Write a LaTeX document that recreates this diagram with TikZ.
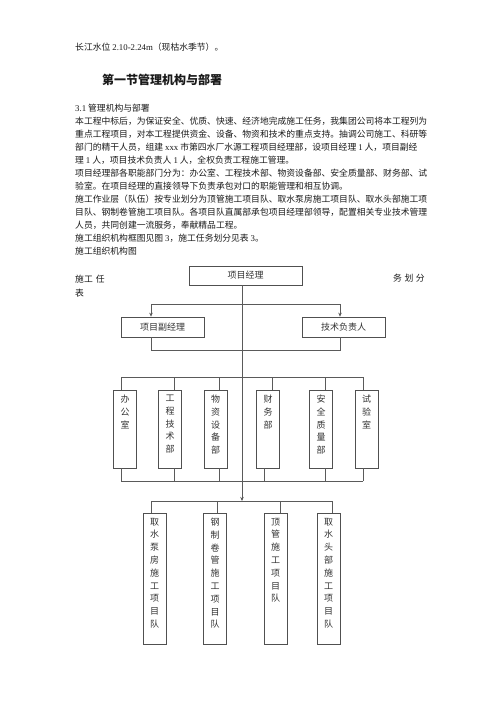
\documentclass[tikz,border=0pt]{standalone}
\usepackage{fontspec}
\setmainfont{Noto Sans CJK SC}
\newfontfamily\lat{Liberation Serif}
\usetikzlibrary{arrows.meta}
\definecolor{linec}{HTML}{5A5A5A}
\definecolor{boxc}{HTML}{505050}
\definecolor{labc}{HTML}{333333}
\definecolor{txtc}{HTML}{1A1A1A}
\newcommand{\vtxt}[2]{\parbox[c][#1][t]{20pt}{\centering\baselineskip=12.8pt\lineskiplimit=-20pt\vspace*{5pt}#2}}
\tikzset{
  txt/.style={anchor=west, inner sep=0, text=txtc, font=\fontsize{8.8}{10}\selectfont},
  box/.style={draw=boxc, line width=0.7pt, inner sep=0, text=labc, font=\fontsize{9}{10}\selectfont},
  vbox/.style={box, minimum width=23pt},
  wire/.style={draw=linec, line width=0.7pt},
  arr/.style={wire, -{Stealth[length=4pt,width=3.5pt]}},
}
\begin{document}
\begin{tikzpicture}[x=1pt,y=-1pt]
\useasboundingbox[fill=white] (0,0) rectangle (500,706);
% text
\node[txt] (t0) at (75,47) {长江水位 {\lat 2.10-2.24m}（现枯水季节）。};
\node[txt, font=\fontsize{12}{14}\selectfont\bfseries] (h1) at (102,80) {第一节管理机构与部署};
\node[txt] (t1) at (75,108) {{\lat 3.1} 管理机构与部署};
\node[txt] (t2) at (75,121) {本工程中标后，为保证安全、优质、快速、经济地完成施工任务，我集团公司将本工程列为};
\node[txt] (t3) at (75,134) {重点工程项目，对本工程提供资金、设备、物资和技术的重点支持。抽调公司施工、科研等};
\node[txt] (t4) at (75,147) {部门的精干人员，组建 {\lat xxx} 市第四水厂水源工程项目经理部，设项目经理 {\lat 1} 人，项目副经};
\node[txt] (t5) at (75,160) {理 {\lat 1} 人，项目技术负责人 {\lat 1} 人，全权负责工程施工管理。};
\node[txt] (t6) at (75,173) {项目经理部各职能部门分为：办公室、工程技术部、物资设备部、安全质量部、财务部、试};
\node[txt] (t7) at (75,186) {验室。在项目经理的直接领导下负责承包对口的职能管理和相互协调。};
\node[txt] (t8) at (75,199) {施工作业层（队伍）按专业划分为顶管施工项目队、取水泵房施工项目队、取水头部施工项};
\node[txt] (t9) at (75,212) {目队、钢制卷管施工项目队。各项目队直属部承包项目经理部领导，配置相关专业技术管理};
\node[txt] (t10) at (75,225) {人员，共同创建一流服务，奉献精品工程。};
\node[txt] (t11) at (75,238) {施工组织机构框图见图 {\lat 3}，施工任务划分见表 {\lat 3}。};
\node[txt] (t12) at (75,251) {施工组织机构图};
\node[txt] (s1) at (75,279) {施工\hspace{3pt}任};
\node[txt] (s2) at (75,293) {表};
\node[txt] (s3) at (393,278) {务\hspace{2.5pt}划\hspace{2.5pt}分};
% top boxes
\node[box, minimum width=113pt, minimum height=19pt] (pm) at (245.5,275.5) {项目经理};
\node[box, minimum width=83pt, minimum height=20pt] (vice) at (162.5,327) {项目副经理};
\node[box, minimum width=83pt, minimum height=20pt] (tech) at (343.5,327) {技术负责人};
% departments
\node[vbox] (b1) at (125,429) {\vtxt{78pt}{办\\公\\室}};
\node[vbox] (b2) at (170,429) {\vtxt{78pt}{工\\程\\技\\术\\部}};
\node[vbox] (b3) at (215.5,429) {\vtxt{78pt}{物\\资\\设\\备\\部}};
\node[vbox] (b4) at (268,429) {\vtxt{78pt}{财\\务\\部}};
\node[vbox] (b5) at (321,429) {\vtxt{78pt}{安\\全\\质\\量\\部}};
\node[vbox] (b6) at (366.5,429) {\vtxt{78pt}{试\\验\\室}};
% teams
\node[vbox] (d1) at (154.5,578.5) {\vtxt{131pt}{取\\水\\泵\\房\\施\\工\\项\\目\\队}};
\node[vbox] (d2) at (215,578.5) {\vtxt{131pt}{钢\\制\\卷\\管\\施\\工\\项\\目\\队}};
\node[vbox] (d3) at (275.5,578.5) {\vtxt{131pt}{顶\\管\\施\\工\\项\\目\\队}};
\node[vbox] (d4) at (328.5,578.5) {\vtxt{131pt}{取\\水\\头\\部\\施\\工\\项\\目\\队}};
% connectors
\coordinate (sp) at ([xshift=-3.5pt]pm.south);
\coordinate (hL) at (151,304);
\coordinate (hR) at (340,304);
\coordinate (gL) at (151,350);
\coordinate (gR) at (340,350);
\draw[wire] (hL) -- (hR);
\draw[arr] (hL) -- (hL |- vice.north);
\draw[arr] (hR) -- (hR |- tech.north);
\draw[wire] (hL |- vice.south) -- (gL) -- (gR) -- (hR |- tech.south);
% bus to departments
\coordinate (k1) at (121,377);
\coordinate (k6) at (363,377);
\draw[wire] (k1) -- (k6);
\foreach \x/\n in {121/b1,174/b2,219/b3,272/b4,325/b5,363/b6}{
  \coordinate (kt) at (\x,377);
  \draw[wire] (kt) -- (kt |- \n.north);
}
\coordinate (m1) at (121,481);
\coordinate (m6) at (363,481);
\draw[wire] (m1) -- (m6);
\foreach \x/\n in {121/b1,174/b2,219/b3,264/b4,325/b5,363/b6}{
  \coordinate (mt) at (\x,481);
  \draw[wire] (mt) -- (mt |- \n.south);
}
% bus to teams
\coordinate (cb) at (242,501);
\draw[arr] (sp) -- (cb);
\coordinate (n1) at (151,501);
\coordinate (n4) at (332,501);
\draw[wire] (n1) -- (n4);
\foreach \x/\n in {151/d1,217/d2,280/d3,332/d4}{
  \coordinate (nt) at (\x,501);
  \draw[wire] (nt) -- (nt |- \n.north);
}
\end{tikzpicture}
\end{document}
